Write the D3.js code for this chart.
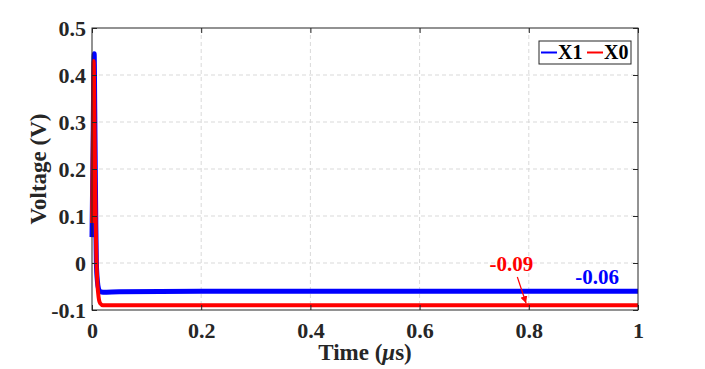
<!DOCTYPE html>
<html>
<head>
<meta charset="utf-8">
<script src="https://cdn.jsdelivr.net/npm/d3@7"></script>
<style>
  body { margin: 0; background: #fff; }
  text { font-family: "Liberation Serif", "Times New Roman", serif; font-weight: bold; }
</style>
</head>
<body>
<svg id="chart" width="705" height="369"></svg>
<script>
'use strict';
// time in microseconds, voltages
const time = [0, 0.002, 0.003, 0.004, 0.005, 0.006, 0.007, 0.008, 0.010, 0.012, 0.015, 0.02, 0.05, 0.2, 0.5, 1];
const x1 = [0.055, 0.25, 0.38, 0.445, 0.33, 0.2, 0.08, 0.0, -0.04, -0.055, -0.061, -0.062, -0.061, -0.06, -0.06, -0.06];
const x0 = [0.085, 0.3, 0.43, 0.36, 0.25, 0.15, 0.07, 0.01, -0.045, -0.072, -0.086, -0.09, -0.09, -0.09, -0.09, -0.09];
const xTicks = [0, 0.2, 0.4, 0.6, 0.8, 1];
const yTicks = [-0.1, 0, 0.1, 0.2, 0.3, 0.4, 0.5];
const seriesNames = ['X1', 'X0'];
const seriesColors = ['#0000ff', '#ff0000'];

const svg = d3.select('#chart');
const pL = 92, pR = 638, pT = 28, pB = 310;

const x = d3.scaleLinear().domain([0, 1]).range([pL, pR]);
const y = d3.scaleLinear().domain([-0.1, 0.5]).range([pB, pT]);
const fmt = d => String(+d.toFixed(2));

// grid
const grid = svg.append('g').attr('stroke', '#d9d9d9').attr('stroke-dasharray', '4,3').attr('stroke-width', 1);
grid.selectAll('.vg').data(xTicks.slice(1, -1)).enter().append('line')
  .attr('x1', d => x(d)).attr('x2', d => x(d)).attr('y1', pT).attr('y2', pB);
grid.selectAll('.hg').data(yTicks.slice(1, -1)).enter().append('line')
  .attr('x1', pL).attr('x2', pR).attr('y1', d => y(d)).attr('y2', d => y(d));

// lines
const line = d3.line().x(d => x(d[0])).y(d => y(d[1])).curve(d3.curveMonotoneX);
svg.append('path').datum(time.map((t, i) => [t, x1[i]]))
  .attr('d', line).attr('fill', 'none').attr('stroke', seriesColors[0]).attr('stroke-width', 5);
svg.append('path').datum(time.map((t, i) => [t, x0[i]]))
  .attr('d', line).attr('fill', 'none').attr('stroke', seriesColors[1]).attr('stroke-width', 4);

// axes
const tickSize = 5;
const axisColor = '#262626';
svg.append('g').attr('transform', `translate(0,${pB})`)
  .call(d3.axisBottom(x).tickValues(xTicks).tickSizeInner(-tickSize).tickSizeOuter(0).tickPadding(12).tickFormat(fmt))
  .call(g => g.select('.domain').remove());
svg.append('g').attr('transform', `translate(${pL},0)`)
  .call(d3.axisLeft(y).tickValues(yTicks).tickSizeInner(-tickSize).tickSizeOuter(0).tickPadding(6).tickFormat(fmt))
  .call(g => g.select('.domain').remove());
svg.append('g').attr('transform', `translate(0,${pT})`)
  .call(d3.axisTop(x).tickValues(xTicks).tickSizeInner(-tickSize).tickSizeOuter(0).tickFormat(''))
  .call(g => g.select('.domain').remove());
svg.append('g').attr('transform', `translate(${pR},0)`)
  .call(d3.axisRight(y).tickValues(yTicks).tickSizeInner(-tickSize).tickSizeOuter(0).tickFormat(''))
  .call(g => g.select('.domain').remove());
svg.selectAll('.tick line').attr('stroke', axisColor);
svg.selectAll('.tick text')
  .attr('fill', axisColor)
  .style('font-size', '22px')
  .style('font-family', '"Liberation Serif", serif')
  .style('font-weight', 'bold');

svg.append('rect').attr('x', pL).attr('y', pT).attr('width', pR - pL).attr('height', pB - pT)
  .attr('fill', 'none').attr('stroke', axisColor).attr('stroke-width', 1);

// axis labels
svg.append('text').attr('x', (pL + pR) / 2).attr('y', 360).attr('text-anchor', 'middle')
  .attr('fill', axisColor).style('font-size', '23px')
  .html('Time (<tspan font-style="italic">μ</tspan>s)');
svg.append('text').attr('transform', `translate(46,${(pT + pB) / 2}) rotate(-90)`).attr('text-anchor', 'middle')
  .attr('fill', axisColor).style('font-size', '23px').text('Voltage (V)');

// annotations
svg.append('defs').append('marker').attr('id', 'arr').attr('viewBox', '0 0 10 10')
  .attr('refX', 10).attr('refY', 5).attr('markerWidth', 6).attr('markerHeight', 6).attr('orient', 'auto')
  .append('path').attr('d', 'M0,0 L10,5 L0,10 z').attr('fill', seriesColors[1]);
svg.append('text').attr('x', x(0.768)).attr('y', 271).attr('text-anchor', 'middle')
  .attr('fill', seriesColors[1]).style('font-size', '21px').text('-0.09');
svg.append('line').attr('x1', x(0.779)).attr('y1', 277).attr('x2', x(0.795)).attr('y2', y(-0.09) - 2)
  .attr('stroke', seriesColors[1]).attr('stroke-width', 1.2).attr('marker-end', 'url(#arr)');
svg.append('text').attr('x', x(0.925)).attr('y', 284).attr('text-anchor', 'middle')
  .attr('fill', seriesColors[0]).style('font-size', '21px').text('-0.06');

// legend
const lg = svg.append('g').attr('transform', 'translate(539,41)');
lg.append('rect').attr('width', 92).attr('height', 23).attr('fill', '#fff').attr('stroke', axisColor).attr('stroke-width', 1);
seriesNames.forEach((name, i) => {
  const ox = 2 + i * 46;
  lg.append('line').attr('x1', ox).attr('x2', ox + 16).attr('y1', 11.5).attr('y2', 11.5)
    .attr('stroke', seriesColors[i]).attr('stroke-width', 2);
  lg.append('text').attr('x', ox + 17).attr('y', 18).attr('fill', '#000').style('font-size', '20px').text(name);
});
</script>
</body>
</html>
